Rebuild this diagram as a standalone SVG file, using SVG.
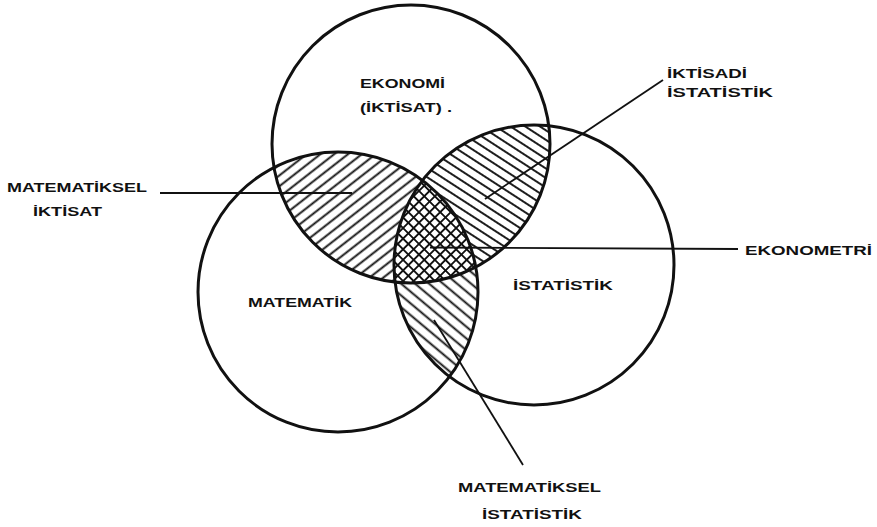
<svg xmlns="http://www.w3.org/2000/svg" width="877" height="527" viewBox="0 0 877 527">
<style>
.c{fill:none;stroke:#111;stroke-width:3}
.ln{stroke:#111;stroke-width:1.8;fill:none}
.hl{stroke:#111;stroke-width:1.9}
text{font-family:"Liberation Sans",Arial,sans-serif;font-weight:bold;font-size:13.5px;fill:#111}
</style>
<defs>
<clipPath id="cT"><circle cx="411" cy="144" r="139"/></clipPath>
<clipPath id="cL"><circle cx="338" cy="292" r="140"/></clipPath>
<clipPath id="cR"><circle cx="534" cy="265" r="140"/></clipPath>
<pattern id="h1" patternUnits="userSpaceOnUse" width="20" height="8.5" patternTransform="rotate(-38)"><line class="hl" x1="0" y1="4.25" x2="20" y2="4.25"/></pattern>
<pattern id="h2" patternUnits="userSpaceOnUse" width="20" height="8" patternTransform="rotate(33)"><line class="hl" x1="0" y1="4" x2="20" y2="4"/></pattern>
<pattern id="h3" patternUnits="userSpaceOnUse" width="20" height="9" patternTransform="rotate(40)"><line class="hl" x1="0" y1="4.5" x2="20" y2="4.5"/></pattern>
<pattern id="hx" patternUnits="userSpaceOnUse" width="7.5" height="7.5" patternTransform="rotate(45)"><line class="hl" x1="0" y1="3.75" x2="7.5" y2="3.75"/><line class="hl" x1="3.75" y1="0" x2="3.75" y2="7.5"/></pattern>
</defs>
<rect width="877" height="527" fill="#fff"/>
<g id="hatching">
<g clip-path="url(#cT)"><rect x="0" y="0" width="877" height="527" clip-path="url(#cL)" fill="url(#h1)"/></g>
<g clip-path="url(#cT)"><rect x="0" y="0" width="877" height="527" clip-path="url(#cR)" fill="url(#h2)"/></g>
<g clip-path="url(#cL)"><rect x="0" y="0" width="877" height="527" clip-path="url(#cR)" fill="url(#h3)"/></g>
<g clip-path="url(#cT)"><g clip-path="url(#cL)"><rect x="0" y="0" width="877" height="527" clip-path="url(#cR)" fill="#fff"/><rect x="0" y="0" width="877" height="527" clip-path="url(#cR)" fill="url(#hx)"/></g></g>
</g>
<g id="ekonomi"><circle class="c" cx="411" cy="144" r="139"/><text x="360" y="88" textLength="85" lengthAdjust="spacingAndGlyphs">EKONOMİ</text><text x="360" y="112" textLength="92" lengthAdjust="spacingAndGlyphs">(İKTİSAT) .</text></g>
<g id="matematik"><circle class="c" cx="338" cy="292" r="140"/><text x="248" y="307" textLength="104" lengthAdjust="spacingAndGlyphs">MATEMATİK</text></g>
<g id="istatistik"><circle class="c" cx="534" cy="265" r="140"/><text x="513" y="290" textLength="100" lengthAdjust="spacingAndGlyphs">İSTATİSTİK</text></g>
<g id="connectors">
<line class="ln" x1="160" y1="193" x2="352" y2="193"/>
<line class="ln" x1="663" y1="80" x2="485" y2="199"/>
<line class="ln" x1="430" y1="247.5" x2="738" y2="249"/>
<line class="ln" x1="434" y1="320" x2="523" y2="465"/>
</g>
<g id="matematiksel-iktisat"><text x="7" y="192" textLength="140" lengthAdjust="spacingAndGlyphs">MATEMATİKSEL</text><text x="33" y="216" textLength="69" lengthAdjust="spacingAndGlyphs">İKTİSAT</text></g>
<g id="iktisadi-istatistik"><text x="667" y="78" textLength="80" lengthAdjust="spacingAndGlyphs">İKTİSADİ</text><text x="667" y="97" textLength="106" lengthAdjust="spacingAndGlyphs">İSTATİSTİK</text></g>
<g id="ekonometri"><text x="745" y="255" textLength="127" lengthAdjust="spacingAndGlyphs">EKONOMETRİ</text></g>
<g id="matematiksel-istatistik"><text x="458" y="492" textLength="143" lengthAdjust="spacingAndGlyphs">MATEMATİKSEL</text><text x="482" y="519" textLength="100" lengthAdjust="spacingAndGlyphs">İSTATİSTİK</text></g>
</svg>
